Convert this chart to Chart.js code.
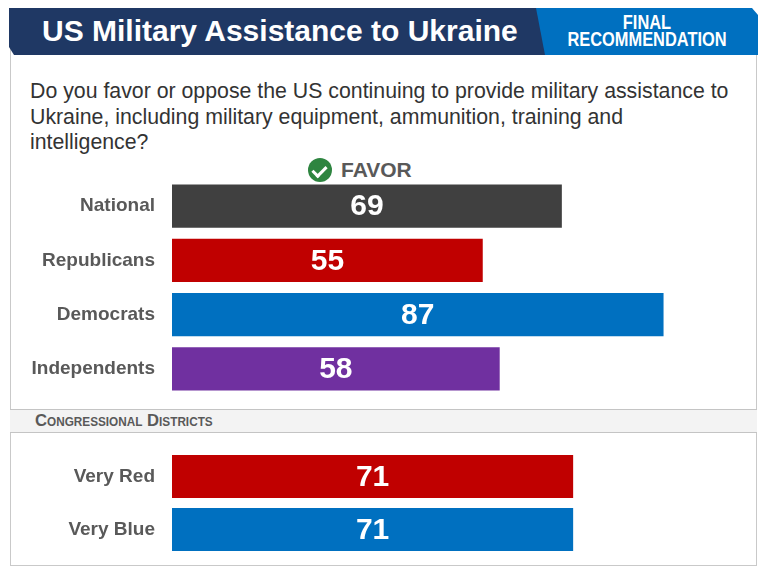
<!DOCTYPE html>
<html>
<head>
<meta charset="utf-8">
<script src="https://cdn.jsdelivr.net/npm/chart.js@4"></script>
<style>
  html, body { margin:0; padding:0; background:#fff; }
  body { width:768px; height:576px; position:relative; overflow:hidden; font-family:"Liberation Sans", Arial, sans-serif; }
  .frame { position:absolute; left:10px; top:40px; width:747px; height:526px; border:1px solid #c9c9c9; box-sizing:border-box; }
  .hdr { position:absolute; left:9px; top:8px; width:540px; height:47px; background:#1f3864;
         clip-path:polygon(0 0, 100% 0, 100% 100%, 5px 100%, 0 calc(100% - 8px)); }
  .hdr span { position:absolute; left:33px; top:6px; color:#fff; font-weight:bold; font-size:30px; white-space:nowrap; }
  .rec { position:absolute; left:536px; top:8px; width:222px; height:47px; background:#0070c0;
         clip-path:polygon(0 0, calc(100% - 6px) 0, 100% 7px, 100% 100%, 9px 100%); }
  .rec div { position:absolute; left:0; width:100%; text-align:center; color:#fff; font-weight:bold; font-size:20px; line-height:17px; transform:scaleX(0.82); top:6px; }
  .q { position:absolute; left:30px; top:79px; font-size:21.3px; line-height:25.5px; color:#333; white-space:nowrap; }
  .favor { position:absolute; left:308px; top:157px; height:25px; display:flex; align-items:center; }
  .favor .chk { width:24px; height:24px; border-radius:50%; background:#2e8540; position:relative; }
  .favor .chk::after { content:""; position:absolute; left:7px; top:5px; width:6px; height:11px; border:solid #fff; border-width:0 3px 3px 0; transform:rotate(45deg); }
  .favor span { margin-left:9px; font-weight:bold; font-size:21px; color:#595959; }
  .band { position:absolute; left:10px; top:409px; width:747px; height:24px; background:#f3f3f3; border-top:1px solid #c4c4c4; border-bottom:1px solid #c4c4c4; box-sizing:border-box; }
  .band span { position:absolute; left:25px; top:1px; font-size:17px; font-weight:bold; color:#595959; font-variant:small-caps; white-space:nowrap; transform:scaleX(0.98); transform-origin:0 50%; }
  .cw { position:absolute; left:0; width:768px; }
</style>
</head>
<body>
<div class="frame"></div>
<div class="hdr"><span>US Military Assistance to Ukraine</span></div>
<div class="rec"><div>FINAL<br>RECOMMENDATION</div></div>
<div class="q">Do you favor or oppose the US continuing to provide military assistance to<br>Ukraine, including military equipment, ammunition, training and<br>intelligence?</div>
<div class="favor"><div class="chk"></div><span>FAVOR</span></div>
<div class="band"><span>Congressional Districts</span></div>
<div class="cw" style="top:179px;height:217px"><canvas id="c1"></canvas></div>
<div class="cw" style="top:450px;height:106px"><canvas id="c2"></canvas></div>
<script>
const groupLabels = ["National", "Republicans", "Democrats", "Independents"];
const groupValues = [69, 55, 87, 58];
const groupColors = ["#404040", "#c00000", "#0070c0", "#7030a0"];

const districtLabels = ["Very Red", "Very Blue"];
const districtValues = [71, 71];
const districtColors = ["#c00000", "#0070c0"];

const valueLabelPlugin = {
  id: "valueLabels",
  afterDatasetsDraw(chart) {
    const ctx = chart.ctx;
    const ds = chart.data.datasets[0];
    chart.getDatasetMeta(0).data.forEach((bar, i) => {
      const left = bar.base, right = bar.x;
      ctx.save();
      ctx.fillStyle = "#ffffff";
      ctx.font = "bold 30px 'Liberation Sans', Arial, sans-serif";
      ctx.textAlign = "center";
      ctx.textBaseline = "middle";
      ctx.fillText(String(ds.data[i]), (left + right) / 2, bar.y + 1);
      ctx.restore();
    });
  }
};

function makeChart(id, labels, values, colors, barPct) {
  return new Chart(document.getElementById(id), {
    type: "bar",
    data: {
      labels: labels,
      datasets: [{
        data: values,
        backgroundColor: colors,
        borderWidth: 0,
        categoryPercentage: 1,
        barPercentage: barPct
      }]
    },
    options: {
      indexAxis: "y",
      responsive: true,
      maintainAspectRatio: false,
      animation: false,
      layout: { padding: { left: 0, right: 31, top: 0, bottom: 0 } },
      plugins: { legend: { display: false }, tooltip: { enabled: false } },
      scales: {
        x: { display: false, min: 0, max: 100 },
        y: {
          grid: { display: false, drawTicks: false },
          border: { display: false },
          ticks: {
            padding: 17,
            color: "#595959",
            font: { family: "'Liberation Sans', Arial, sans-serif", size: 19, weight: "bold" }
          },
          afterFit(scale) {
            scale.width = 172;
            scale.paddingTop = 0;
            scale.paddingBottom = 0;
          }
        }
      }
    },
    plugins: [valueLabelPlugin]
  });
}

makeChart("c1", groupLabels, groupValues, groupColors, 43 / 54);
makeChart("c2", districtLabels, districtValues, districtColors, 43 / 53);
</script>
</body>
</html>
